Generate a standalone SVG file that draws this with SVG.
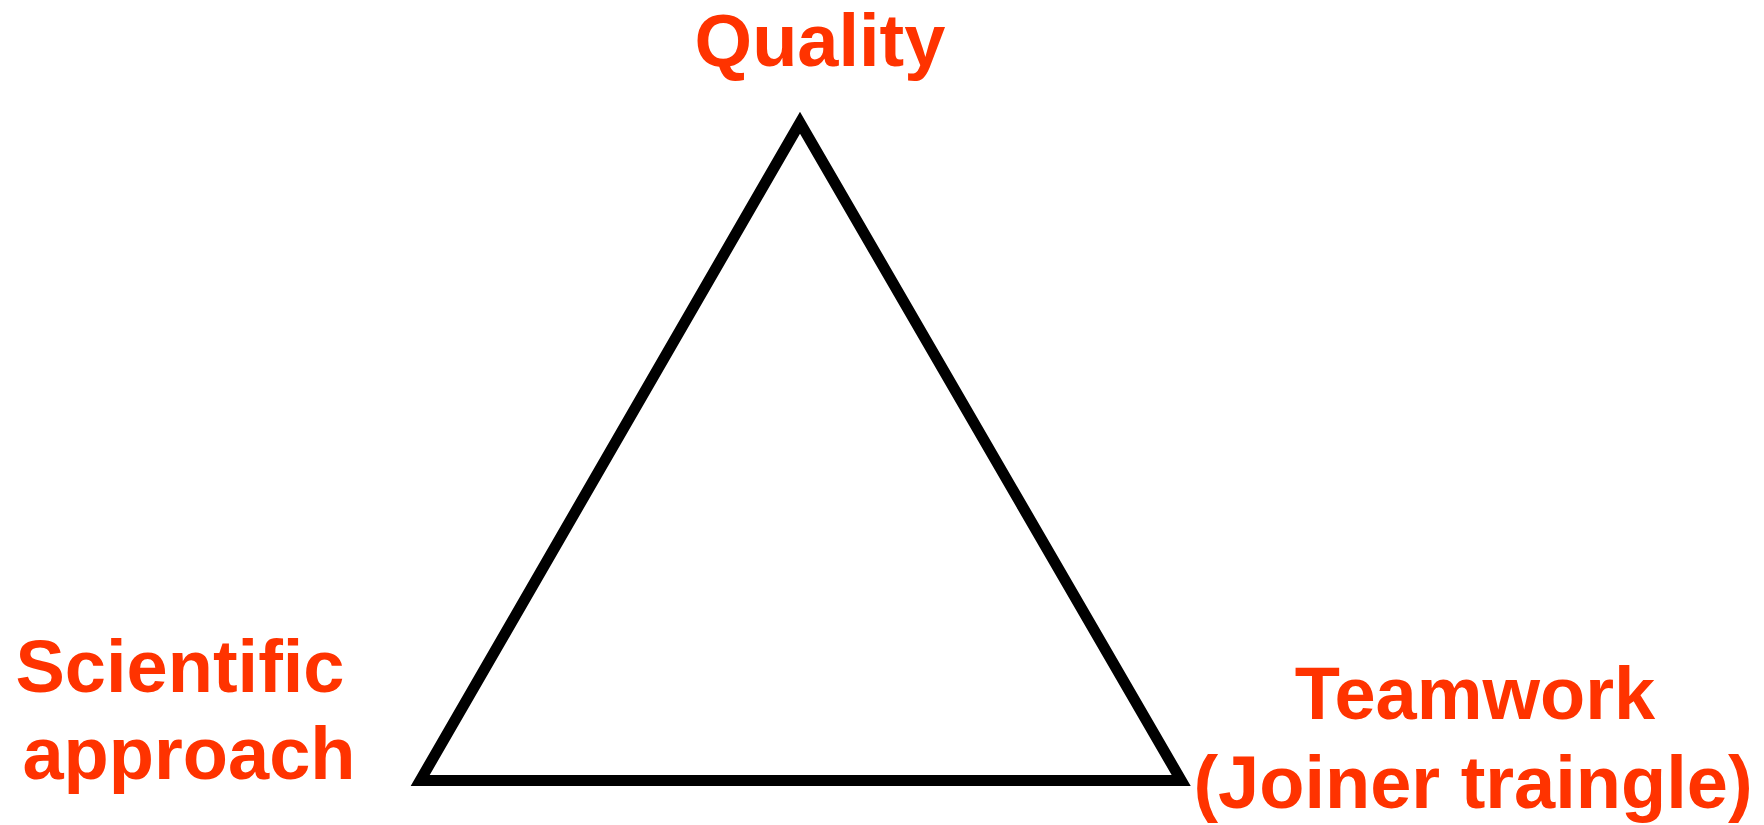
<svg xmlns="http://www.w3.org/2000/svg" width="1764" height="825" viewBox="0 0 1764 825">
<style>
.lbl{font-family:"Liberation Sans",Arial,sans-serif;font-weight:bold;font-size:74px;fill:#FF3300;text-anchor:middle}
.edge{fill:none;stroke:#000;stroke-width:11;stroke-linejoin:miter;stroke-miterlimit:10}
</style>
<rect width="1764" height="825" fill="#fff"/>
<g id="connectors">
<polygon class="edge" points="800,122.7 1181.2,780.5 420.2,780.5"/>
</g>
<g id="quality"><text class="lbl" x="820" y="66">Quality</text></g>
<g id="scientific"><text class="lbl" x="180" y="692">Scientific</text><text class="lbl" x="189" y="779">approach</text></g>
<g id="teamwork"><text class="lbl" x="1475" y="719">Teamwork</text><text class="lbl" x="1473" y="808">(Joiner traingle)</text></g>
</svg>
